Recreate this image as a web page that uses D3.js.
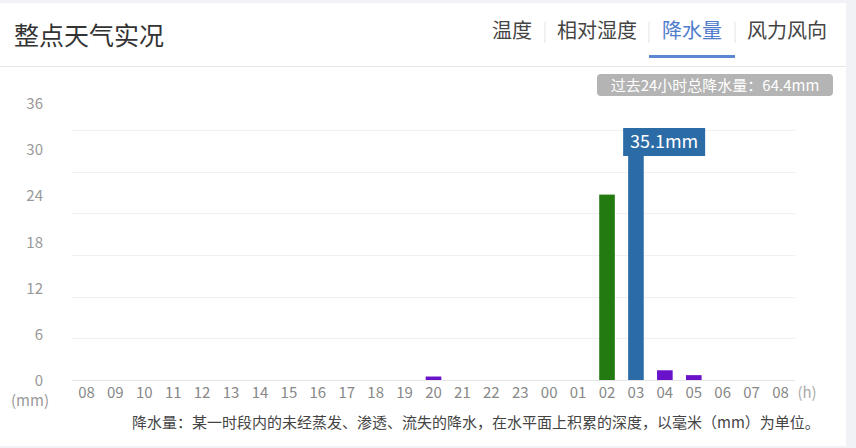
<!DOCTYPE html>
<html>
<head>
<meta charset="utf-8">
<script src="https://cdn.jsdelivr.net/npm/d3@7"></script>
<style>
  body { margin: 0; background: #f0f2f5; }
  svg { display: block; font-family: "Noto Sans CJK SC", "Noto Sans", sans-serif; }
</style>
</head>
<body>
<script>
// hours, 08 today to 08 next day
var hours = ["08","09","10","11","12","13","14","15","16","17","18","19","20","21","22","23","00","01","02","03","04","05","06","07","08"];
var rain = [0,0,0,0,0,0,0,0,0,0,0,0,0.5,0,0,0,0,0,26.7,35.1,1.4,0.7,0,0,0];
var yTicks = [0, 6, 12, 18, 24, 30, 36];
var tabs = ["温度", "相对湿度", "降水量", "风力风向"];
var activeTab = "降水量";
var title = "整点天气实况";
var total = "过去24小时总降水量：64.4mm";
var note = "降水量：某一时段内的未经蒸发、渗透、流失的降水，在水平面上积累的深度，以毫米（mm）为单位。";

var w = 856, h = 448;

function barColor(d) {
  if (d >= 30) return "#2c6ca6";
  if (d >= 10) return "#237a10";
  return "#6a12c9";
}

var svg = d3.select("body").append("svg")
  .attr("width", w)
  .attr("height", h);

// white panel
svg.append("rect")
  .attr("x", 0).attr("y", 3)
  .attr("width", 846).attr("height", 443)
  .attr("fill", "#fff");

// header
svg.append("text")
  .attr("x", 14).attr("y", 45)
  .attr("font-size", "25px")
  .attr("fill", "#333")
  .text(title);

var tabX = [492, 557, 662, 747];
svg.selectAll(".tab")
  .data(tabs)
  .enter()
  .append("text")
  .attr("class", "tab")
  .attr("x", function(d, i) { return tabX[i]; })
  .attr("y", 38)
  .attr("font-size", "20px")
  .attr("fill", function(d) { return d == activeTab ? "#4f7dcc" : "#444"; })
  .text(function(d) { return d; });

svg.selectAll(".sep")
  .data([545, 649, 735])
  .enter()
  .append("line")
  .attr("x1", function(d) { return d; })
  .attr("x2", function(d) { return d; })
  .attr("y1", 22).attr("y2", 43)
  .attr("stroke", "#e3e3e3");

svg.append("rect")
  .attr("x", 649).attr("y", 55)
  .attr("width", 86).attr("height", 3)
  .attr("fill", "#5a86d4");

svg.append("line")
  .attr("x1", 0).attr("x2", 846)
  .attr("y1", 66.5).attr("y2", 66.5)
  .attr("stroke", "#e6e6e6");

// total pill
svg.append("rect")
  .attr("x", 597).attr("y", 74)
  .attr("width", 236).attr("height", 22)
  .attr("rx", 4)
  .attr("fill", "#b4b4b4");
svg.append("text")
  .attr("x", 715).attr("y", 90.5)
  .attr("text-anchor", "middle")
  .attr("font-size", "15px")
  .attr("fill", "#fff")
  .text(total);

// scales
var x = d3.scaleBand()
  .domain(d3.range(hours.length))
  .range([72, 795])
  .paddingInner(0.46)
  .paddingOuter(0.23);

var y = d3.scaleLinear().domain([0, 36]).range([380, 130]);
// y labels sit on their own spacing in the original page
var yLab = d3.scaleLinear().domain([0, 36]).range([381, 104]);

svg.selectAll(".grid")
  .data(yTicks)
  .enter()
  .append("line")
  .attr("x1", 72).attr("x2", 795)
  .attr("y1", function(d) { return Math.round(y(d)) + 0.5; })
  .attr("y2", function(d) { return Math.round(y(d)) + 0.5; })
  .attr("stroke", function(d) { return d == 0 ? "#e6e6e6" : "#f0f0f0"; });

svg.selectAll(".ylab")
  .data(yTicks)
  .enter()
  .append("text")
  .attr("class", "ylab")
  .attr("x", 43)
  .attr("y", function(d) { return yLab(d) + 5; })
  .attr("text-anchor", "end")
  .attr("font-size", "15px")
  .attr("fill", "#999")
  .text(function(d) { return d; });

svg.append("text")
  .attr("x", 30).attr("y", 406)
  .attr("text-anchor", "middle")
  .attr("font-size", "15px")
  .attr("fill", "#999")
  .text("(mm)");

// bars
svg.selectAll(".bar")
  .data(rain)
  .enter()
  .append("rect")
  .attr("class", "bar")
  .attr("x", function(d, i) { return x(i); })
  .attr("y", function(d) { return y(d); })
  .attr("width", x.bandwidth())
  .attr("height", function(d) { return y(0) - y(d); })
  .attr("fill", barColor);

// x labels
svg.selectAll(".xlab")
  .data(hours)
  .enter()
  .append("text")
  .attr("class", "xlab")
  .attr("x", function(d, i) { return x(i) + x.bandwidth() / 2; })
  .attr("y", 398)
  .attr("text-anchor", "middle")
  .attr("font-size", "15px")
  .attr("fill", "#888")
  .text(function(d) { return d; });

svg.append("text")
  .attr("x", 807).attr("y", 398)
  .attr("text-anchor", "middle")
  .attr("font-size", "15px")
  .attr("fill", "#aaa")
  .text("(h)");

// max label
var maxI = d3.maxIndex(rain);
var tip = svg.append("g");
tip.append("rect")
  .attr("x", x(maxI) - 5)
  .attr("y", 128)
  .attr("width", 82).attr("height", 28)
  .attr("fill", "#2c6ca6");
tip.append("text")
  .attr("x", x(maxI) - 5 + 41)
  .attr("y", 148)
  .attr("text-anchor", "middle")
  .attr("font-size", "18px")
  .attr("fill", "#fff")
  .text(rain[maxI] + "mm");

// footnote
svg.append("text")
  .attr("x", 132).attr("y", 428)
  .attr("font-size", "15px")
  .attr("fill", "#444")
  .text(note);
</script>
</body>
</html>
